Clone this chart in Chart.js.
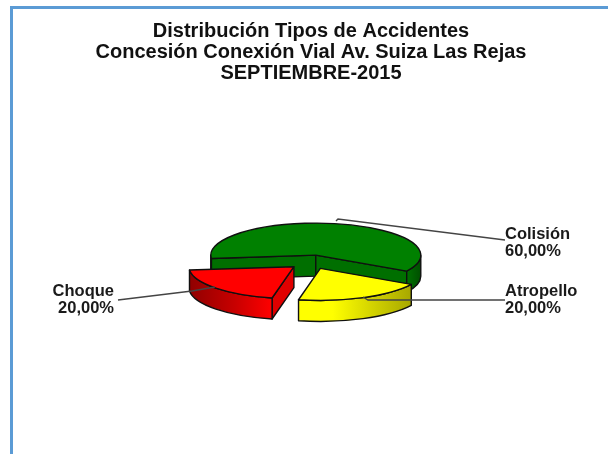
<!DOCTYPE html>
<html><head><meta charset="utf-8">
<style>
html,body{margin:0;padding:0;background:#fff;overflow:hidden}
#wrap{position:absolute;left:0;top:0;width:608px;height:454px}
#frame{position:absolute;left:10px;top:6px;width:800px;height:600px;border:3px solid #5b9bd5;box-sizing:border-box}
canvas{position:absolute;left:0;top:0}
</style>
<script src="https://cdn.jsdelivr.net/npm/chart.js@4/dist/chart.umd.min.js"></script>
</head><body>
<div id="wrap"><div id="frame"></div><canvas id="c" width="608" height="454"></canvas></div>
<script>
const titleLines = ["Distribución Tipos de Accidentes","Concesión Conexión Vial Av. Suiza Las Rejas","SEPTIEMBRE-2015"];
const categories = ["Colisión","Atropello","Choque"];
const values = [60,20,20];
const valueLabels = ["60,00%","20,00%","20,00%"];
const topColors = ["#008000","#ffff00","#ff0000"];

const K = 0.305, DEPTH = 21;
const wallStyles = [
  {radial:"#006f00", outer:[[0,"#007000"],[1,"#004f00"]]},
  {radial:"#bcbc00", outer:[[0,"#ffff00"],[0.3,"#ffff00"],[1,"#a8a800"]]},
  {radial:"#e00000", outer:[[0,"#900000"],[0.55,"#c80000"],[1,"#ff0000"]]}
];
const leaders = [
  {path:[[336,221],[338,219],[505,240]], text:[505,234], align:"left"},
  {path:[[363,297],[368,300],[505,300]], text:[505,291], align:"left"},
  {path:[[215,287],[192,291],[118,300]], text:[114,291], align:"right"}
];

const pie3d = {
  id:"pie3d",
  // Replaces the flat arc drawing: each slice is redrawn from the arc element's own geometry.
  beforeDatasetsDraw(chart){
    const ctx = chart.ctx, arcs = chart.getDatasetMeta(0).data;
    const cy = arcs[0].y;
    const geo = arcs.map(a=>{
      const off = a.options.offset, mid = (a.startAngle+a.endAngle)/2;
      return {a, x:a.x+off*Math.cos(mid), y:cy+off*Math.sin(mid)*K, r:a.outerRadius, s:a.startAngle, e:a.endAngle};
    });
    ctx.save();
    ctx.lineJoin = "round"; ctx.strokeStyle = "#101010"; ctx.lineWidth = 1.4;
    geo.forEach((g,i)=>{
      const st = wallStyles[i];
      const px = t => g.x + g.r*Math.cos(t), py = t => g.y + g.r*K*Math.sin(t);
      [[g.s, Math.sin(g.s-Math.PI/2)],[g.e, Math.sin(g.e+Math.PI/2)]].forEach(([t,facing])=>{
        if(facing<=0) return;
        ctx.beginPath();
        ctx.moveTo(g.x,g.y); ctx.lineTo(px(t),py(t));
        ctx.lineTo(px(t),py(t)+DEPTH); ctx.lineTo(g.x,g.y+DEPTH); ctx.closePath();
        ctx.fillStyle = st.radial; ctx.fill(); ctx.stroke();
      });
      for(let k=0;k<=1;k++){
        const lo = Math.max(g.s, k*2*Math.PI), hi = Math.min(g.e, k*2*Math.PI+Math.PI);
        if(hi<=lo) continue;
        const xs=[px(lo),px(hi)];
        const grad = ctx.createLinearGradient(Math.min(...xs),0,Math.max(...xs),0);
        st.outer.forEach(([p,c])=>grad.addColorStop(p,c));
        ctx.beginPath();
        ctx.ellipse(g.x,g.y,g.r,g.r*K,0,lo,hi,false);
        ctx.ellipse(g.x,g.y+DEPTH,g.r,g.r*K,0,hi,lo,true);
        ctx.closePath();
        ctx.fillStyle = grad; ctx.fill(); ctx.stroke();
      }
      ctx.beginPath();
      ctx.moveTo(g.x,g.y);
      ctx.ellipse(g.x,g.y,g.r,g.r*K,0,g.s,g.e,false);
      ctx.closePath();
      ctx.fillStyle = g.a.options.backgroundColor; ctx.fill(); ctx.stroke();
    });
    ctx.restore();
    return false;
  },
  afterDraw(chart){
    const ctx = chart.ctx;
    ctx.save();
    ctx.strokeStyle = "#444"; ctx.lineWidth = 1.4;
    leaders.forEach(l=>{
      ctx.beginPath();
      l.path.forEach((p,i)=> i ? ctx.lineTo(...p) : ctx.moveTo(...p));
      ctx.stroke();
    });
    ctx.fillStyle = "#1a1a1a";
    ctx.font = 'bold 16.5px "Liberation Sans"';
    ctx.textBaseline = "middle";
    leaders.forEach((l,i)=>{
      ctx.textAlign = l.align;
      ctx.fillText(categories[i], l.text[0], l.text[1]);
      ctx.fillText(valueLabels[i], l.text[0], l.text[1]+17);
    });
    ctx.restore();
  }
};

new Chart(document.getElementById("c"),{
  type:"pie",
  data:{labels:categories,datasets:[{data:values,backgroundColor:topColors,borderWidth:0,offset:23,radius:105}]},
  options:{
    responsive:false,animation:false,
    rotation:264,
    layout:{padding:{left:14,right:0,top:0,bottom:14}},
    plugins:{
      legend:{display:false},tooltip:{enabled:false},
      title:{display:true,text:titleLines,color:"#111",font:{family:'"Liberation Sans"',size:20,weight:"bold",lineHeight:1.05},padding:{top:21,bottom:0}}
    }
  },
  plugins:[pie3d]
});
</script>
</body></html>
